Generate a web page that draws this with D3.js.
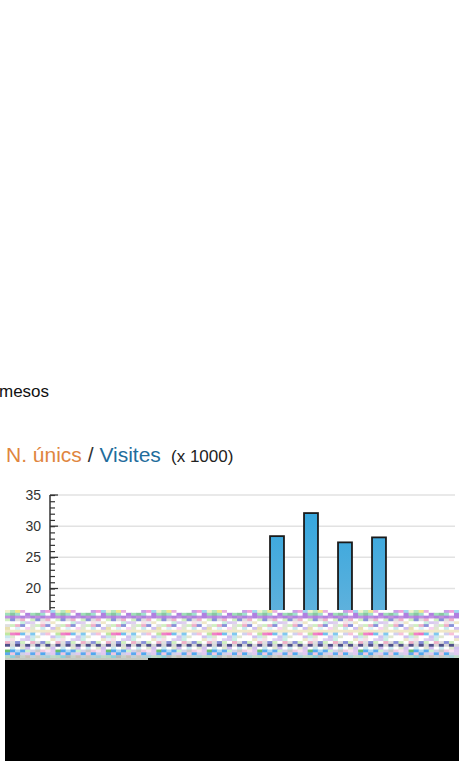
<!DOCTYPE html>
<html>
<head>
<meta charset="utf-8">
<script src="https://cdn.jsdelivr.net/npm/d3@7"></script>
<style>
  html, body { margin: 0; padding: 0; background: #fff; overflow: hidden; }
  svg { display: block; font-family: "Liberation Sans", Arial, sans-serif; }
</style>
</head>
<body>
<div id="my_dataviz"></div>
<script>
// values, only the last four bars are visible
var categories = ["a", "b", "c", "d"];
var visites = [28.4, 32.1, 27.4, 28.2];
var yTicks = [20, 25, 30, 35];
var minorTicks = d3.range(17, 36);

// the damaged strip under the chart, colours read row by row
var noiseRows = [
    ["#f4f1d0", "#c9a0e8", "#ffffff", "#b8e8c0", "#f0a0d8", "#ffffff", "#f4e890", "#a0d8f0", "#ffffff", "#e8b0e0"],
    ["#d8a878", "#9fe0b8", "#c090e0", "#ffffff", "#e0c090", "#88c8a0", "#ffffff", "#b080e0", "#e8d0a0", "#a0e0d0"],
    ["#ffffff", "#f0b0c8", "#ffffff", "#d0f0c0", "#ffffff", "#e0e0e0", "#ffffff", "#ffffff", "#e09858", "#8890d8"],
    ["#e8f0f8", "#ffffff", "#d8c8f0", "#f8e0e8", "#ffffff", "#c8f0e0", "#ffffff", "#f0e8c8", "#ffffff", "#e0d0f0"],
    ["#f070c0", "#70c0f0", "#f0f0f0", "#80c8f0", "#ffffff", "#d0d0f0", "#f8c0d8", "#ffffff", "#c0e8a0", "#f080c8"],
    ["#ffffff", "#e0e8d0", "#f8d0f0", "#ffffff", "#d8f0f8", "#ffffff", "#e8e0b0", "#d0c0f0", "#ffffff", "#c8e8f0"],
    ["#a8b8a0", "#30307a", "#50508a", "#d0c8e0", "#40408a", "#c0c0c8", "#505088", "#d8d8d8", "#30307a", "#40408a"],
    ["#f8e0f0", "#50a8f0", "#c8f0d0", "#f0c8e0", "#68c070", "#5aa8f0", "#c8c8c8", "#e0c8f0", "#b0d8f0", "#d0d0e8"],
    ["#c8c8c0", "#c0d0d8", "#c8c0b8", "#c8d0c8", "#b8b8b8", "#90d0d8", "#b8d8c0", "#c0d8c8", "#a8d0d8", "#b8d0d8"]
];
// which colour row each pixel row of the strip uses, top to bottom
var noiseOrder = [0, 1, 1, 2, 3, 2, 5, 3, 4, 5, 3, 2, 6, 5, 7, 7, 8];

var width = 459, height = 761;

var svg = d3.select("#my_dataviz")
    .append("svg")
    .attr("width", width)
    .attr("height", height);

// gradient of the bars
var grad = svg.append("defs").append("linearGradient")
    .attr("id", "barFill")
    .attr("gradientUnits", "userSpaceOnUse")
    .attr("x1", 0).attr("x2", 0)
    .attr("y1", 513).attr("y2", 640);
grad.append("stop").attr("offset", "0%").attr("stop-color", "#36a7de");
grad.append("stop").attr("offset", "100%").attr("stop-color", "#6ab4dc");

// text above the chart
svg.append("text")
    .attr("x", -1)
    .attr("y", 397)
    .style("font-size", "17px")
    .style("fill", "#111")
    .text("mesos");

var title = svg.append("text")
    .attr("x", 6)
    .attr("y", 462)
    .style("font-size", "21px");
title.append("tspan").style("fill", "#e0863f").text("N. únics");
title.append("tspan").style("fill", "#333").text(" / ");
title.append("tspan").style("fill", "#1f6d9c").text("Visites");
title.append("tspan").attr("x", 171).style("fill", "#222").style("font-size", "17px").text("(x 1000)");

// scales
var y = d3.scaleLinear().domain([20, 35]).range([588.5, 495]);
var x = d3.scaleBand().domain(categories).range([260, 396]).paddingInner(0.59).paddingOuter(0.295);

var clipBottom = 611;
svg.append("clipPath").attr("id", "plotClip")
    .append("rect")
    .attr("x", 0).attr("y", 480)
    .attr("width", width).attr("height", clipBottom - 480);

var plot = svg.append("g").attr("clip-path", "url(#plotClip)");

// grid lines
plot.selectAll(".grid")
    .data(yTicks).enter()
    .append("line")
    .attr("x1", 50).attr("x2", 455)
    .attr("y1", function(d) { return y(d); })
    .attr("y2", function(d) { return y(d); })
    .style("stroke", "#e2e2e2")
    .style("stroke-width", 1.5);

// bars
plot.selectAll(".bar")
    .data(visites).enter()
    .append("rect")
    .attr("x", function(d, i) { return x(categories[i]); })
    .attr("y", function(d) { return y(d); })
    .attr("width", x.bandwidth())
    .attr("height", function(d) { return y(0) - y(d); })
    .style("fill", "url(#barFill)")
    .style("stroke", "#1a1a1a")
    .style("stroke-width", 1.8);

// y axis with a small tick for every unit
var axisMinor = d3.axisRight(y).tickValues(minorTicks).tickSize(5).tickFormat("");
plot.append("g")
    .attr("transform", "translate(50,0)")
    .call(axisMinor)
    .call(function(g) { g.select(".domain").remove(); })
    .selectAll("line")
    .style("stroke", "#333")
    .style("stroke-width", 1.2);

var axisMajor = d3.axisLeft(y).tickValues(yTicks).tickSize(0).tickPadding(9);
var axisG = plot.append("g")
    .attr("transform", "translate(50,0)")
    .call(axisMajor);
axisG.select(".domain").remove();
axisG.selectAll("text")
    .style("font-family", '"Liberation Sans", Arial, sans-serif')
    .style("font-size", "14px")
    .style("fill", "#333");

plot.selectAll(".majorTick")
    .data(yTicks).enter()
    .append("line")
    .attr("x1", 50).attr("x2", 58)
    .attr("y1", function(d) { return y(d); })
    .attr("y2", function(d) { return y(d); })
    .style("stroke", "#333")
    .style("stroke-width", 1.2);

plot.append("line")
    .attr("x1", 50).attr("x2", 50)
    .attr("y1", y(35)).attr("y2", clipBottom)
    .style("stroke", "#333")
    .style("stroke-width", 1.5);

// damaged strip: fine cells, each row steps through its colours at its own rate
var rowScale = d3.scaleBand().domain(d3.range(noiseOrder.length)).range([610, 658]);
var colScale = d3.scaleBand().domain(d3.range(90)).range([5, 459]);

svg.append("g").selectAll("g")
    .data(noiseOrder).enter()
    .append("g")
    .attr("transform", function(d, i) { return "translate(0," + rowScale(i) + ")"; })
    .each(function(rowIndex, r) {
        d3.select(this).selectAll("rect")
            .data(colScale.domain()).enter()
            .append("rect")
            .attr("x", function(c) { return colScale(c); })
            .attr("width", colScale.bandwidth() + 0.5)
            .attr("height", rowScale.bandwidth() + 0.5)
            .style("fill", function(c) { return noiseRows[rowIndex][(c * (r + 3) + r) % 10]; });
    });

// black block below the strip, the grey bit is its uneven top edge on the left
svg.append("rect")
    .attr("x", 5).attr("y", 658)
    .attr("width", width - 5).attr("height", height - 658)
    .style("fill", "#000");
svg.append("rect")
    .attr("x", 5).attr("y", 658)
    .attr("width", 143).attr("height", 2)
    .style("fill", "#c4c8c0");
</script>
</body>
</html>
